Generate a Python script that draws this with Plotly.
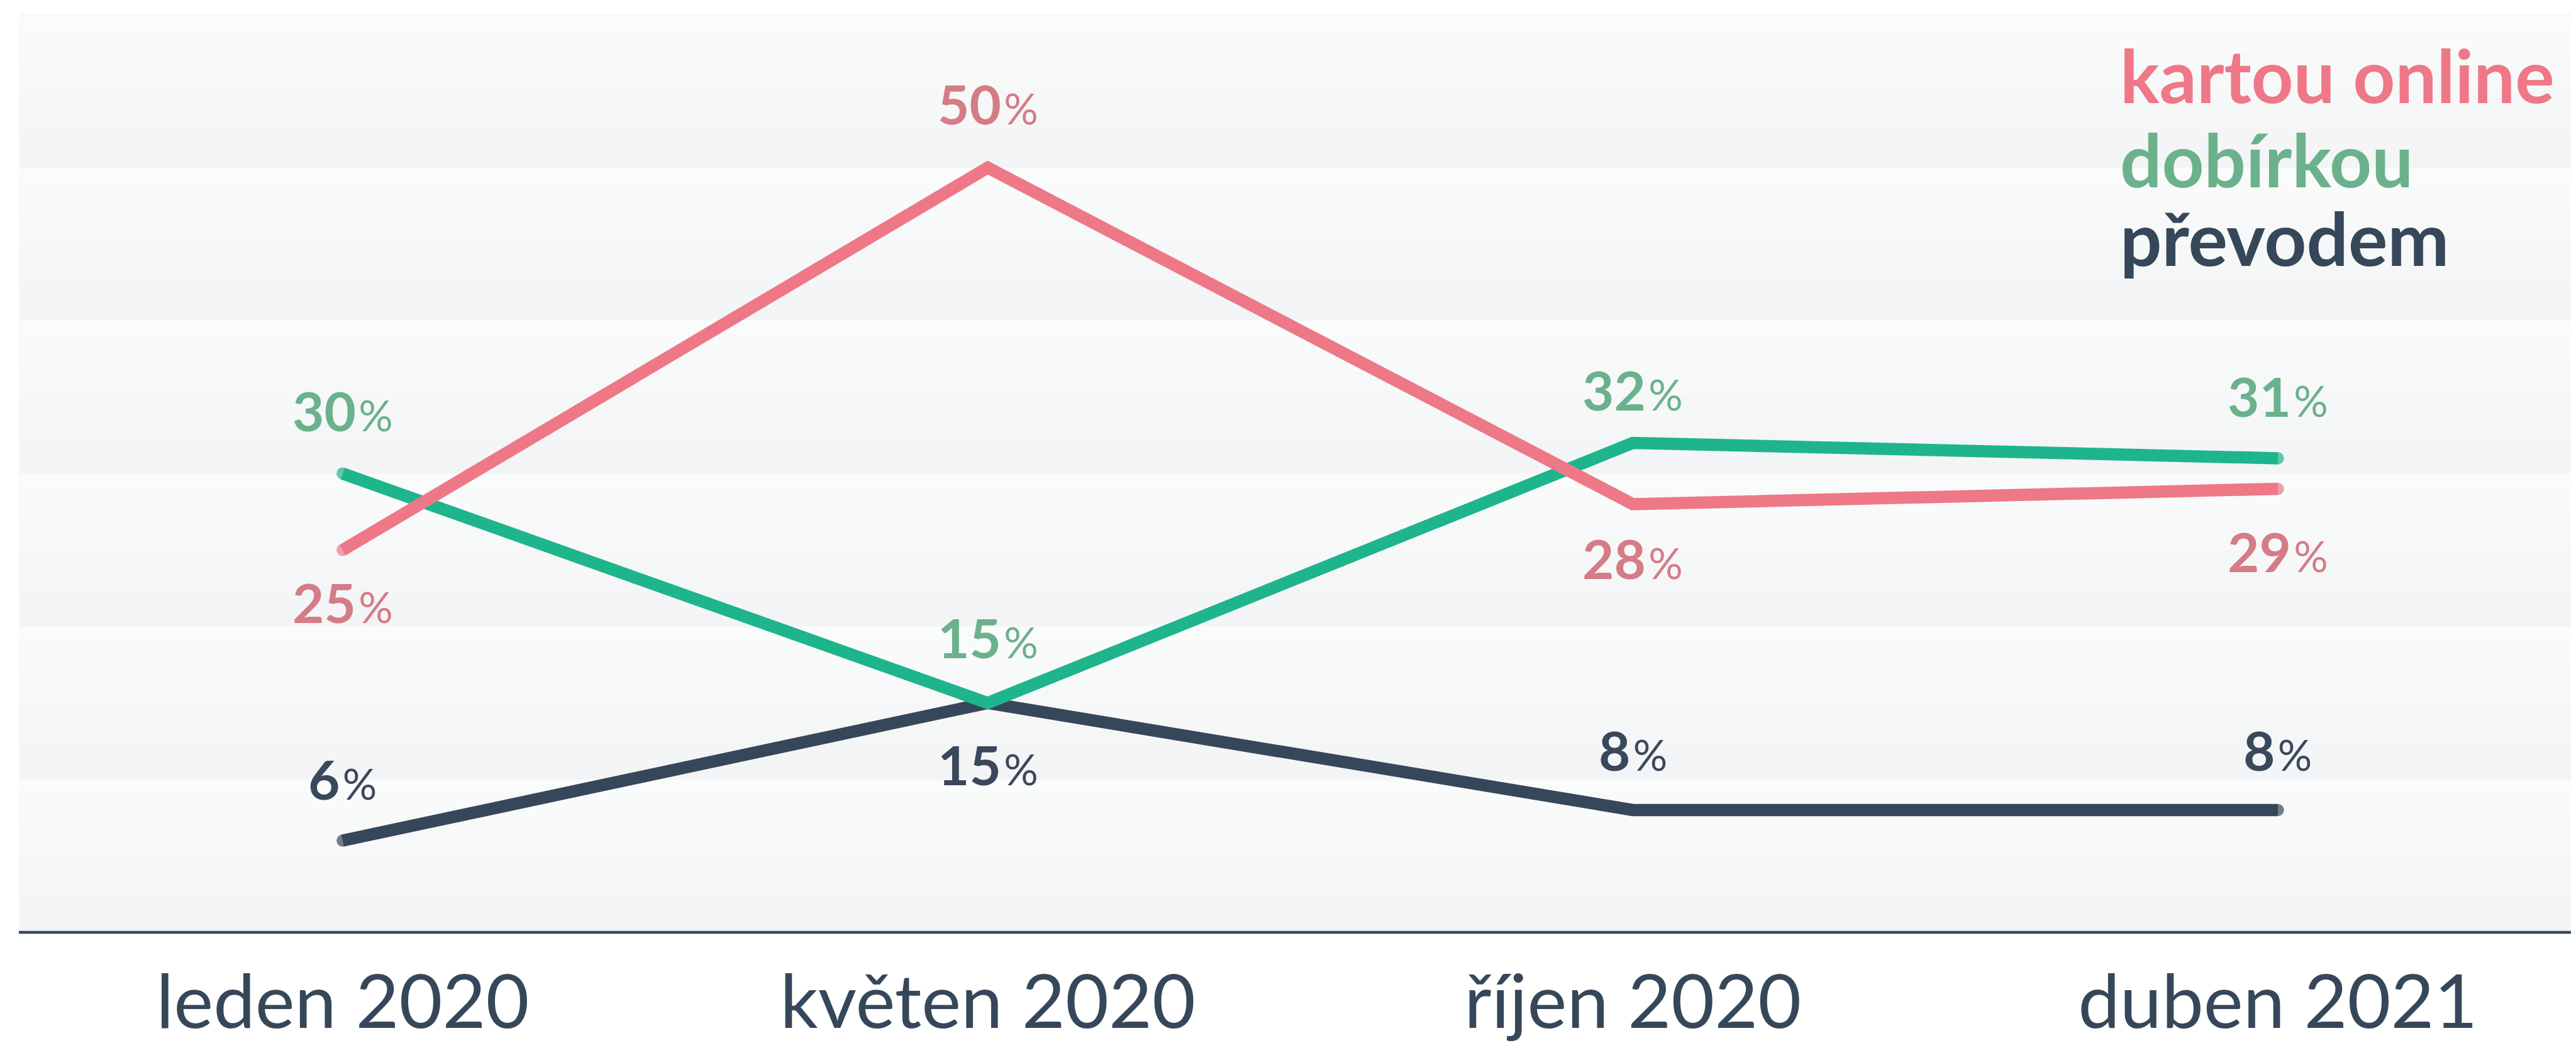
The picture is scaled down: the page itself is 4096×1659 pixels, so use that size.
import plotly.graph_objects as go

# ---------------- data ----------------
categories = ["leden 2020", "květen 2020", "říjen 2020", "duben 2021"]
kartou_online = [25, 50, 28, 29]
dobirkou = [30, 15, 32, 31]
prevodem = [6, 15, 8, 8]
series_names = ["kartou online", "dobírkou", "převodem"]

# ---------------- styling / layout constants ----------------
S = 0.895                      # global scale vs. reference
W, H = 4096, 1659
FONT = "Lato"

LINE_COL = {"kartou online": "#EE7887", "dobírkou": "#1FB58C", "převodem": "#37475A"}
LABEL_COL = {"kartou online": "#D47C87", "dobírkou": "#6BB18C", "převodem": "#3A485B"}
LEGEND_COL = {"kartou online": "#EE7887", "dobírkou": "#6BB18C", "převodem": "#37475A"}

# label offsets of digit-centre from point, in reference px (negative = above)
LABEL_OFF = {
    "kartou online": [95, -111, 99, 113],
    "dobírkou": [-110, -114, -92, -108],
    "převodem": [-107, 112, -104, -104],
}

LINE_W = 19.5
LABEL_SIZE = 87
PCT_SIZE = 68
TICK_SIZE = 119
LEG_SIZE = 117

# plot area in output pixels
PL, PT = 25 * S, 16 * S
PB = 1648.5 * S
PLOT_H = PB - PT
X_RANGE = [-0.502, 3.470]
Y_RANGE = [0, 60.06]

series = {
    "kartou online": kartou_online,
    "dobírkou": dobirkou,
    "převodem": prevodem,
}

fig = go.Figure()

# background bands with vertical gradient (light at top, darker at bottom)
def lerp(c0, c1, t):
    return "rgb(%d,%d,%d)" % tuple(round(a + (b - a) * t) for a, b in zip(c0, c1))

dark = (243, 244, 245)
light = (250, 251, 251)
shapes = []
NSTRIP = 12
for k in range(6):
    lo, hi = 10 * k, 10 * (k + 1)
    for i in range(NSTRIP):
        y0 = lo + (hi - lo) * i / NSTRIP
        y1 = lo + (hi - lo) * (i + 1) / NSTRIP
        shapes.append(dict(type="rect", xref="paper", yref="y", x0=0, x1=1,
                           y0=y0, y1=y1 + 0.01,
                           fillcolor=lerp(dark, light, (i + 0.5) / NSTRIP),
                           line=dict(width=0), layer="below"))
# top sliver above 60
shapes.append(dict(type="rect", xref="paper", yref="y", x0=0, x1=1, y0=60, y1=Y_RANGE[1] + 1,
                   fillcolor=lerp(dark, light, 0.05), line=dict(width=0), layer="below"))
# baseline axis line
shapes.append(dict(type="line", xref="paper", yref="paper", x0=0, x1=1, y0=0, y1=0,
                   line=dict(color="#37475A", width=4.5), layer="above"))

# lines (dark first, pink on top)
for name in ["převodem", "dobírkou", "kartou online"]:
    vals = series[name]
    fig.add_trace(go.Scatter(
        x=categories, y=vals, mode="lines+markers", name=name,
        line=dict(color=LINE_COL[name], width=LINE_W, shape="linear"),
        marker=dict(color=LINE_COL[name], size=[LINE_W, 0, 0, LINE_W], line=dict(width=0)),
        hoverinfo="skip", showlegend=False, cliponaxis=False,
    ))

annotations = []
# value labels
for name in series_names:
    for cat, v, off in zip(categories, series[name], LABEL_OFF[name]):
        annotations.append(dict(
            x=cat, y=v, xref="x", yref="y",
            text=f"<b>{v}</b><span style='font-size:{PCT_SIZE}px'>\u200a%</span>",
            showarrow=False, xanchor="center", yanchor="middle",
            yshift=-off * S + 2.5,
            font=dict(family=FONT, size=LABEL_SIZE, color=LABEL_COL[name]),
        ))

# legend as coloured text
LEG_LEFT_PX = 3755 * S
LEG_BASE_PX = [175 * S, 325 * S, 464 * S]
for name, base in zip(series_names, LEG_BASE_PX):
    mid = base - 0.387 * LEG_SIZE
    annotations.append(dict(
        x=(LEG_LEFT_PX - PL) / (W - PL), y=(PB - mid) / PLOT_H,
        xref="paper", yref="paper", xanchor="left", yanchor="middle",
        text=f"<b>{name}</b>", showarrow=False,
        font=dict(family=FONT, size=LEG_SIZE, color=LEGEND_COL[name]),
    ))

fig.update_layout(
    width=W, height=H, autosize=False,
    margin=dict(l=PL, r=0, t=PT, b=H - PB, pad=0),
    paper_bgcolor="white", plot_bgcolor="#F6F7F8",
    shapes=shapes, annotations=annotations,
    xaxis=dict(type="category", categoryorder="array", categoryarray=categories,
               range=X_RANGE, showgrid=False, zeroline=False, showline=False,
               ticks="", ticklabelstandoff=32, automargin=False,
               tickfont=dict(family=FONT, size=TICK_SIZE, color="#37475A")),
    yaxis=dict(range=Y_RANGE, visible=False, showgrid=False, zeroline=False,
               automargin=False),
    showlegend=False,
)

fig.write_html("out.html")
